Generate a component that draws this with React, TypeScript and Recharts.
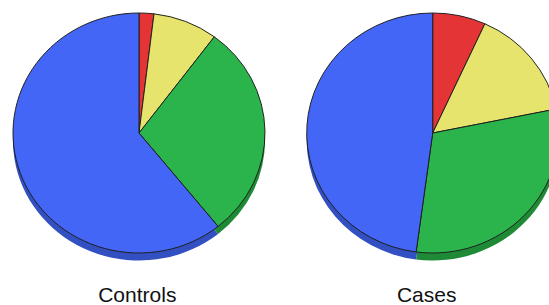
import { PieChart, Pie, Cell } from "recharts";

// slice order: red, yellow, green, blue (clockwise from 12 o'clock)
const sliceNames = ["Red", "Yellow", "Green", "Blue"];
const controlsValues = [1.9, 8.3, 29.0, 60.8];
const casesValues = [6.8, 15.0, 30.3, 47.9];
const groupLabels = ["Controls", "Cases"];

const FACE_COLORS = ["#e43436", "#e6e46c", "#2bb44b", "#4466f6"];
const SIDE_COLORS = ["#a82426", "#b0ae48", "#1f8a36", "#3250c2"];

const controlsData = sliceNames.map((name, i) => ({ name, value: controlsValues[i] }));
const casesData = sliceNames.map((name, i) => ({ name, value: casesValues[i] }));

// pie is slightly squashed vertically: rx 126, ry 120
const SY = 120 / 126;
const R = 126;
const CY = 133 / SY;
const DEPTH = 7.5 / SY;

export default function App() {
  const pies = [
    { data: controlsData, cx: 139, key: "controls" },
    { data: casesData, cx: 432.7, key: "cases" },
  ];

  return (
    <div
      style={{
        position: "absolute",
        top: 0,
        left: 0,
        width: 549,
        height: 305,
        overflow: "hidden",
        background: "#ffffff",
      }}
    >
      <div
        style={{
          position: "absolute",
          top: 0,
          left: 0,
          transform: `scaleY(${SY})`,
          transformOrigin: "0 0",
        }}
      >
        <PieChart width={549} height={Math.round(300 / SY)} margin={{ top: 0, right: 0, bottom: 0, left: 0 }}>
          {pies.map((p) => (
            <Pie
              key={p.key + "-side"}
              data={p.data}
              dataKey="value"
              cx={p.cx}
              cy={CY + DEPTH}
              outerRadius={R}
              startAngle={90}
              endAngle={-270}
              stroke="none"
              isAnimationActive={false}
            >
              {p.data.map((d, i) => (
                <Cell key={d.name} fill={SIDE_COLORS[i]} />
              ))}
            </Pie>
          ))}
          {pies.map((p) => (
            <Pie
              key={p.key + "-face"}
              data={p.data}
              dataKey="value"
              cx={p.cx}
              cy={CY}
              outerRadius={R}
              startAngle={90}
              endAngle={-270}
              stroke="#1e1e1e"
              strokeWidth={1}
              isAnimationActive={false}
            >
              {p.data.map((d, i) => (
                <Cell key={d.name} fill={FACE_COLORS[i]} />
              ))}
            </Pie>
          ))}
        </PieChart>
      </div>
      {groupLabels.map((label, i) => (
        <div
          key={label}
          style={{
            position: "absolute",
            left: (i === 0 ? 137.3 : 426.7) - 60,
            width: 120,
            top: 284,
            textAlign: "center",
            fontFamily: "'Liberation Sans', Arial, sans-serif",
            fontSize: 21,
            lineHeight: "21px",
            color: "#111111",
          }}
        >
          {label}
        </div>
      ))}
    </div>
  );
}
